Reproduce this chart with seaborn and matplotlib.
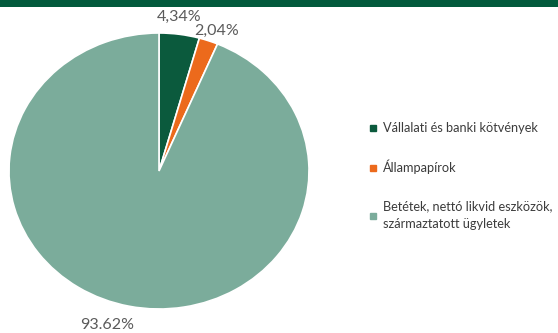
import matplotlib
matplotlib.use("Agg")
import matplotlib.pyplot as plt
from matplotlib.lines import Line2D
from matplotlib.patches import Rectangle
import seaborn as sns

categories = [
    "Vállalati és banki kötvények",
    "Állampapírok",
    "Betétek, nettó likvid eszközök,\nszármaztatott ügyletek",
]
shares = [4.34, 2.04, 93.62]
value_labels = ["4,34%", "2,04%", "93.62%"]
colors = ["#0b5a3d", "#ec6a1c", "#7bac9b"]

sns.set_theme(style="white")
plt.rcParams["font.family"] = ["Lato", "DejaVu Sans"]

fig = plt.figure(figsize=(5.58, 3.33), dpi=100)

# dark header band along the top edge
fig.patches.append(Rectangle((0, 1 - 7 / 333), 1, 7 / 333, transform=fig.transFigure,
                             facecolor="#035a3c", edgecolor="none", zorder=0))

ax = fig.add_axes([9 / 558, 24 / 333, 300 / 558, 276 / 333])
wedges, _ = ax.pie(shares, colors=colors, startangle=90, counterclock=False,
                   wedgeprops=dict(edgecolor="white", linewidth=1.2))
ax.set_aspect("auto")
ax.set_xlim(-1, 1)
ax.set_ylim(-1, 1)
ax.axis("off")

# value labels placed outside each wedge
label_pos = [(0.133, 1.116), (0.387, 1.014), (-0.347, -1.116)]
for txt, (x, y) in zip(value_labels, label_pos):
    ax.text(x, y, txt, ha="center", va="center", fontsize=11.5, color="#5a5a5a",
            clip_on=False)

handles = [Line2D([], [], marker="s", linestyle="none", markersize=4.5,
                  markerfacecolor=c, markeredgecolor=c) for c in colors]
leg = fig.legend(handles, categories, loc="upper left",
                 bbox_to_anchor=(363 / 558, 1 - 116 / 333),
                 frameon=False, fontsize=9.2, labelcolor="#3c3c3c", handlelength=0.6,
                 handletextpad=0.5, labelspacing=2.0, borderpad=0)
for t in leg.get_texts():
    t.set_linespacing(1.6)

fig.savefig("out.png", dpi=100)
